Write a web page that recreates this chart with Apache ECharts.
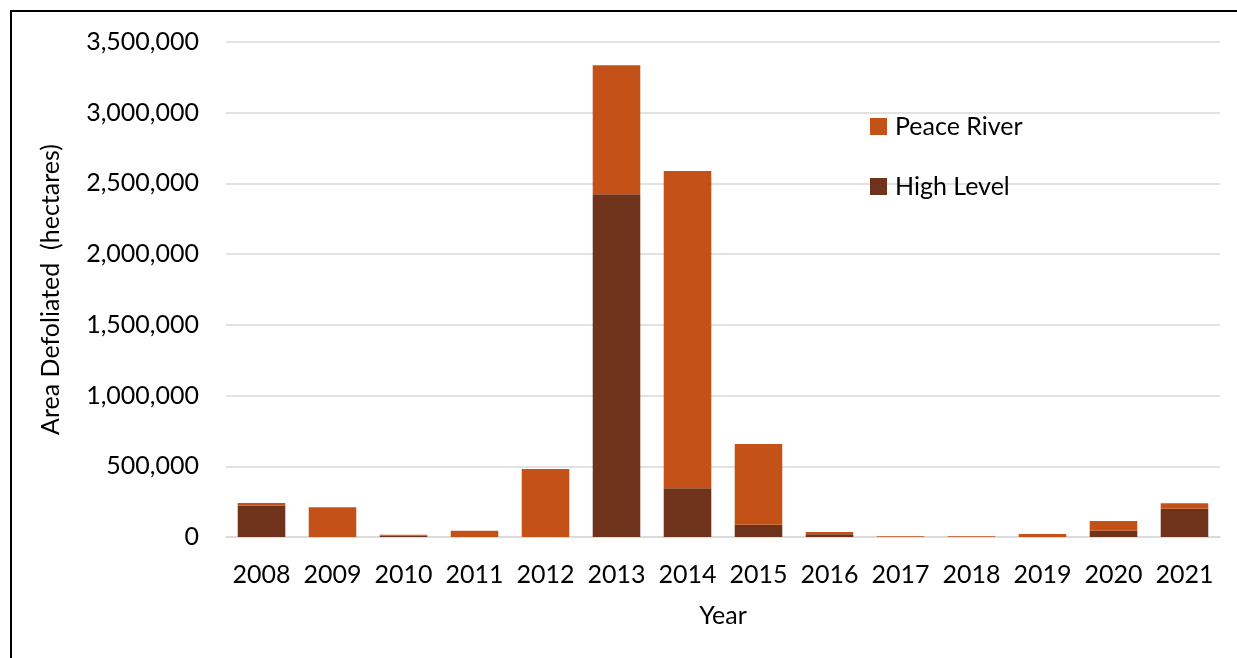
<!DOCTYPE html>
<html>
<head>
<meta charset="utf-8">
<script src="https://cdn.jsdelivr.net/npm/echarts@6/dist/echarts.min.js"></script>
<style>
  html, body { margin: 0; padding: 0; background: #fff; }
  #frame { position: absolute; left: 10px; top: 10px; width: 1300px; height: 700px;
           border-left: 2px solid #000; border-top: 2px solid #000; }
  #chart { position: absolute; left: 0; top: 0; width: 1237px; height: 658px; }
</style>
</head>
<body>
<div id="frame"></div>
<div id="chart"></div>
<script>
// Area defoliated per year, by forest area (hectares)
const years = ['2008','2009','2010','2011','2012','2013','2014','2015','2016','2017','2018','2019','2020','2021'];
const highLevel  = [221000, 0, 10000, 0, 0, 2423000, 344000, 87000, 19000, 0, 0, 0, 45000, 200000];
const peaceRiver = [19000, 210000, 6000, 44000, 481000, 912000, 2244000, 571000, 16000, 6000, 5000, 21000, 68000, 38000];
const yTicks = [0, 500000, 1000000, 1500000, 2000000, 2500000, 3000000, 3500000];

const FONT = 'Lato';
const FS = 25;
const chart = echarts.init(document.getElementById('chart'), null, { renderer: 'canvas' });
chart.setOption({
  animation: false,
  textStyle: { fontFamily: FONT },
  grid: { left: 226, right: 17, top: 42, bottom: 121, containLabel: false },
  legend: {
    orient: 'vertical', left: 870, top: 114, itemGap: 35, padding: 0,
    itemWidth: 17, itemHeight: 17, icon: 'rect',
    textStyle: { fontFamily: FONT, fontSize: FS, color: '#000', padding: [0, 0, 0, 3] },
    data: ['Peace River', 'High Level']
  },
  xAxis: {
    type: 'category', data: years,
    name: 'Year', nameLocation: 'middle', nameGap: 66,
    nameTextStyle: { fontFamily: FONT, fontSize: FS, color: '#000' },
    axisTick: { show: false },
    axisLine: { lineStyle: { color: '#d9d9d9', width: 1.5 } },
    axisLabel: { fontFamily: FONT, fontSize: FS, color: '#000', margin: 25, interval: 0 }
  },
  yAxis: {
    type: 'value', min: yTicks[0], max: yTicks[yTicks.length - 1], interval: yTicks[1] - yTicks[0],
    name: 'Area Defoliated  (hectares)', nameLocation: 'middle', nameGap: 163,
    nameTextStyle: { fontFamily: FONT, fontSize: FS, color: '#000' },
    axisLine: { show: false }, axisTick: { show: false },
    splitLine: { lineStyle: { color: '#d9d9d9', width: 1.5 } },
    axisLabel: {
      fontFamily: FONT, fontSize: FS, color: '#000', margin: 27,
      formatter: v => v.toLocaleString('en-US')
    }
  },
  series: [
    { name: 'High Level', type: 'bar', stack: 'area', data: highLevel,
      barCategoryGap: '33%', itemStyle: { color: '#6f321a' } },
    { name: 'Peace River', type: 'bar', stack: 'area', data: peaceRiver,
      barCategoryGap: '33%', itemStyle: { color: '#c45218' } }
  ]
});
</script>
</body>
</html>
